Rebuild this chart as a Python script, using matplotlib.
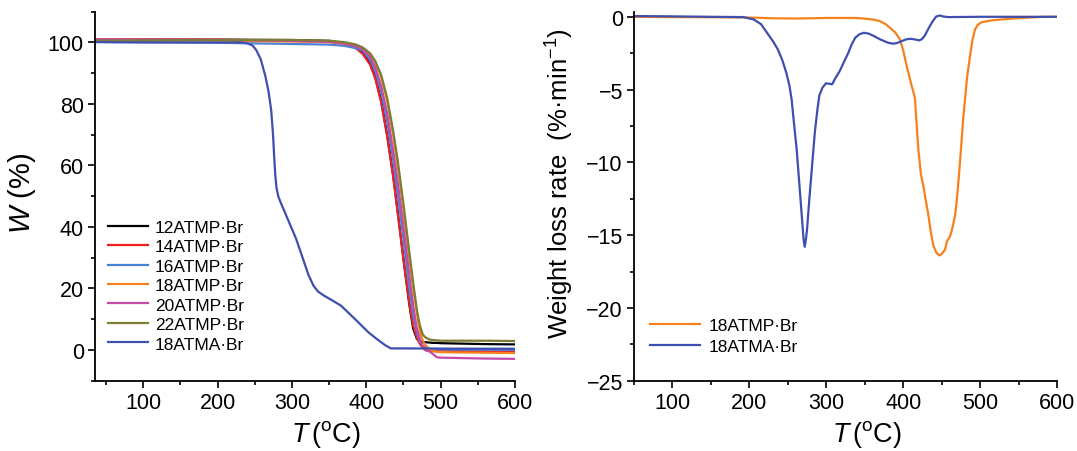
import matplotlib
matplotlib.use("Agg")
import matplotlib.pyplot as plt
from matplotlib.ticker import MultipleLocator

plt.rcParams['font.family'] = ['Liberation Sans', 'DejaVu Sans']
plt.rcParams['mathtext.fontset'] = 'custom'
plt.rcParams['mathtext.rm'] = 'Liberation Sans'
plt.rcParams['mathtext.it'] = 'Liberation Sans:italic'
plt.rcParams['mathtext.bf'] = 'Liberation Sans:bold'

# ---------------- TGA data (left) ----------------
T_atmp = [35, 100, 200, 300, 350, 370, 385, 395, 405, 412, 420, 428, 436, 442,
          450, 458, 463, 468, 472, 476, 480, 485, 490, 495, 500, 520, 560, 600]
W_12 = [100.8, 100.9, 100.9, 100.8, 100.5, 99.8, 98.6, 96.8, 93.2, 88.8, 81.0, 70.0, 57.0, 45.5,
        29.5, 14.5, 7.0, 3.6, 2.8, 2.6, 2.5, 2.4, 2.3, 2.3, 2.2, 2.1, 1.9, 1.8]
W_14 = [101.0, 101.0, 100.9, 100.6, 100.2, 99.5, 98.3, 96.3, 92.8, 88.3, 80.5, 69.5, 56.5, 45.0,
        29.5, 15.0, 8.0, 4.0, 2.0, 0.6, -0.1, -0.4, -0.4, -0.4, -0.4, -0.4, -0.45, -0.5]
W_16 = [100.2, 100.1, 99.9, 99.5, 99.3, 98.9, 98.2, 97.4, 94.4, 90.8, 84.0, 74.5, 62.0, 51.2,
        36.0, 20.0, 11.5, 5.8, 2.8, 1.3, 0.7, 0.4, 0.3, 0.2, 0.2, 0.1, 0.1, 0.0]
W_18 = [100.7, 100.8, 100.6, 100.3, 100.1, 99.6, 99.0, 98.2, 96.2, 93.6, 88.8, 81.0, 70.0, 60.3,
        45.5, 29.5, 20.0, 12.0, 6.0, 3.0, 1.4, 0.3, -0.3, -0.6, -0.7, -0.8, -0.9, -1.0]
W_20 = [101.0, 101.0, 100.9, 100.5, 100.2, 99.7, 98.8, 97.8, 95.3, 92.0, 85.8, 77.0, 65.0, 55.0,
        40.0, 24.0, 14.5, 7.0, 3.5, 1.2, -0.1, -0.5, -1.4, -2.4, -2.5, -2.6, -2.8, -2.9]
W_22 = [100.6, 100.7, 100.8, 100.8, 100.6, 100.1, 99.4, 98.4, 96.5, 94.0, 89.4, 82.0, 71.4, 62.0,
        47.4, 31.5, 22.0, 13.0, 8.0, 5.0, 4.0, 3.4, 3.2, 3.1, 3.0, 3.0, 3.0, 2.9]

T_atma = [35, 100, 200, 232, 240, 247, 252, 258, 264, 268.5, 272, 274.5, 276, 277.5, 279, 281.5,
          285, 290, 297, 305.6, 315, 322, 328.9, 335, 342.8, 355, 366, 375, 384.5, 395, 403, 415,
          425, 433, 450, 500, 550, 600]
W_atma = [100.1, 100.0, 100.0, 100.0, 99.7, 99.0, 97.5, 94.5, 89.2, 84.0, 78.0, 70.0, 63.0, 57.0,
          53.0, 50.0, 47.8, 45.0, 41.0, 36.1, 29.5, 24.5, 20.9, 19.0, 17.7, 16.0, 14.4, 12.3, 10.1,
          7.6, 5.7, 3.4, 1.6, 0.5, 0.5, 0.45, 0.4, 0.4]

# ---------------- DTG data (right) ----------------
T_dtg_atma = [50, 100, 150, 192, 205.5, 215, 223, 231, 237, 243, 248, 252, 255, 258, 261.5, 265,
              268.2, 270.5, 272, 273.5, 275, 278, 281.6, 285, 288.4, 291, 295, 299.5, 304, 307.6,
              312, 317.5, 323, 328.7, 333, 337.7, 343, 348.9, 355, 362.2, 370, 380.2, 386.9, 392,
              398.1, 404, 409.3, 415, 420.5, 424, 428, 433, 438.4, 443, 447.4, 452, 458.6, 500,
              550, 600]
R_dtg_atma = [0.05, 0.03, 0.0, -0.02, -0.18, -0.5, -1.1, -1.7, -2.24, -3.0, -3.84, -4.7, -5.7,
              -7.3, -9.1, -11.5, -13.7, -15.3, -15.8, -15.3, -14.6, -12.5, -10.2, -8.0, -6.4, -5.4,
              -4.87, -4.57, -4.6, -4.64, -4.2, -3.73, -3.1, -2.47, -1.9, -1.44, -1.2, -1.10, -1.15,
              -1.33, -1.55, -1.78, -1.85, -1.8, -1.67, -1.55, -1.51, -1.55, -1.62, -1.55, -1.3,
              -0.8, -0.30, 0.02, 0.09, 0.02, -0.02, 0.0, 0.0, 0.0]

T_dtg_atmp = [50, 100, 150, 200, 230, 260, 300, 340, 352.5, 362, 369.9, 377, 383, 390, 395.9, 400,
              404.6, 408, 411.1, 414, 415.4, 417, 419.7, 423, 426.2, 429, 432.7, 436, 439.2, 443,
              447, 450, 454.4, 457, 460.9, 464, 467.4, 469.5, 471.7, 474, 476.1, 478, 480.4, 483,
              486.9, 490, 493.4, 497, 502.1, 510, 517.2, 547.6, 582.2, 600]
R_dtg_atmp = [0.0, -0.02, -0.03, -0.05, -0.1, -0.12, -0.08, -0.08, -0.14, -0.2, -0.3, -0.5, -0.76,
              -1.1, -1.56, -2.3, -3.39, -4.1, -4.76, -5.3, -5.67, -7.0, -9.1, -10.8, -11.6, -12.5,
              -13.6, -14.8, -15.7, -16.2, -16.4, -16.3, -16.0, -15.4, -15.1, -14.5, -13.7, -12.7,
              -11.4, -9.9, -8.4, -7.0, -5.67, -4.2, -2.7, -1.6, -0.87, -0.55, -0.37, -0.3, -0.23,
              -0.1, 0.0, 0.0]

tga_labels = ['12ATMP·Br', '14ATMP·Br', '16ATMP·Br', '18ATMP·Br', '20ATMP·Br', '22ATMP·Br', '18ATMA·Br']
tga_colors = ['#000000', '#EE2024', '#4A82D6', '#F7811E', '#C64AA8', '#7D7D34', '#3E4FB0']

fig = plt.figure(figsize=(10.77, 4.52), dpi=100)
ax1 = fig.add_axes([95/1077, 1-381.7/452, 420/1077, 369/452])
ax2 = fig.add_axes([634/1077, 1-381.7/452, 423/1077, 369/452])

lw = 1.6
series = [W_12, W_14, W_16, W_18, W_20, W_22]
for W, lab, c in zip(series, tga_labels[:6], tga_colors[:6]):
    ax1.plot(T_atmp, W, color=c, lw=lw, label=lab)
ax1.plot(T_atma, W_atma, color=tga_colors[6], lw=lw, label=tga_labels[6])

ax2.plot(T_dtg_atmp, R_dtg_atmp, color='#F7811E', lw=lw, label='18ATMP·Br')
ax2.plot(T_dtg_atma, R_dtg_atma, color='#3E4FB0', lw=lw, label='18ATMA·Br')

ax1.set_xlim(35, 600)
ax1.set_ylim(-10, 110)
ax1.xaxis.set_major_locator(MultipleLocator(100))
ax1.xaxis.set_minor_locator(MultipleLocator(50))
ax1.yaxis.set_major_locator(MultipleLocator(20))
ax1.yaxis.set_minor_locator(MultipleLocator(10))

ax2.set_xlim(50, 600)
ax2.set_ylim(-25, 0.35)
ax2.xaxis.set_major_locator(MultipleLocator(100))
ax2.xaxis.set_minor_locator(MultipleLocator(50))
ax2.yaxis.set_major_locator(MultipleLocator(5))
ax2.yaxis.set_minor_locator(MultipleLocator(2.5))

for ax in (ax1, ax2):
    for s in ('top', 'right'):
        ax.spines[s].set_visible(False)
    for s in ('left', 'bottom'):
        ax.spines[s].set_linewidth(1.3)
    ax.tick_params(which='major', direction='out', length=5, width=1.2, labelsize=15.5, pad=3)
    ax.tick_params(which='minor', direction='out', length=3, width=1.2)

ax1.set_xlabel(r'$T\,$($^{\rm o}$C)', fontsize=19.5)
ax2.set_xlabel(r'$T\,$($^{\rm o}$C)', fontsize=19.5)
ax1.xaxis.set_label_coords(0.55, -0.102)
ax2.xaxis.set_label_coords(0.55, -0.102)
ax1.set_ylabel(r'$W$ (%)', fontsize=21)
ax1.yaxis.set_label_coords(-0.136, 0.51)
ax2.set_ylabel('Weight loss rate  (%·min$^{-1}$)', fontsize=18.5)
ax2.yaxis.set_label_coords(-0.137, 0.537)

leg1 = ax1.legend(loc='center left', bbox_to_anchor=(13/420, (381.7-286.5)/369),
                  frameon=False, fontsize=12.5, handlelength=2.3, handletextpad=0.4,
                  labelspacing=0.25, borderpad=0, borderaxespad=0)
leg2 = ax2.legend(loc='center left', bbox_to_anchor=(16/423, (381.7-337)/369),
                  frameon=False, fontsize=12.5, handlelength=2.9, handletextpad=0.5,
                  labelspacing=0.3, borderpad=0, borderaxespad=0)

fig.savefig('out.png', dpi=100)
